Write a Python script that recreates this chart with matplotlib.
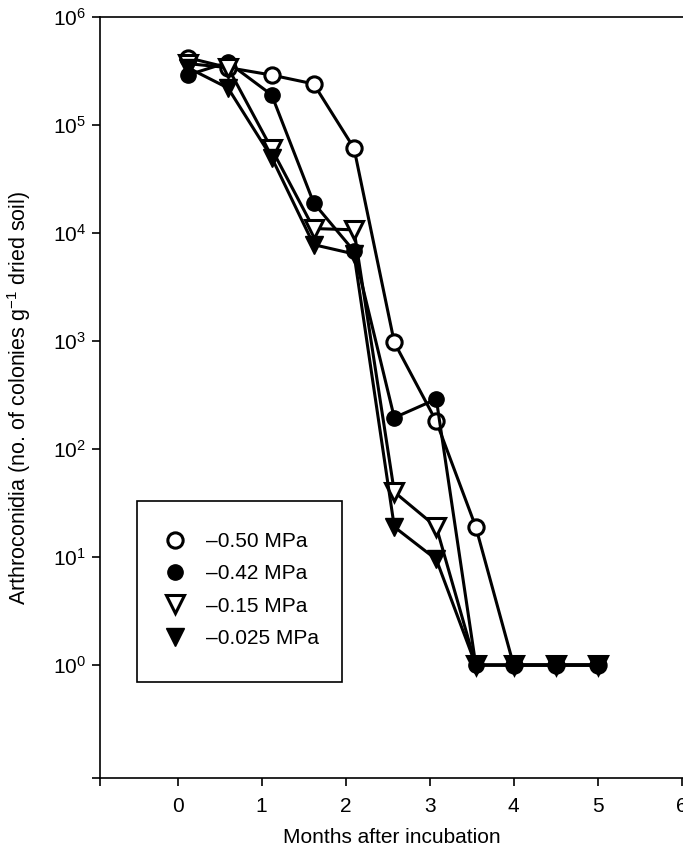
import matplotlib
matplotlib.use("Agg")
import matplotlib.pyplot as plt
import matplotlib.patches as patches

plt.rcParams['font.family'] = ['Liberation Sans', 'DejaVu Sans']
plt.rcParams['mathtext.default'] = 'regular'

# months after incubation
months = [0.12, 0.6, 1.12, 1.62, 2.1, 2.58, 3.08, 3.55, 4.0, 4.5, 5.0]

# arthroconidia counts per series
mpa_050 = [4.2e5, 3.4e5, 2.9e5, 2.4e5, 6.1e4, 970, 180, 19, 1, 1, 1]
mpa_042 = [2.9e5, 3.8e5, 1.9e5, 1.9e4, 6.8e3, 195, 290, 1, 1, 1, 1]
mpa_015 = [3.7e5, 3.4e5, 6.0e4, 1.1e4, 1.07e4, 40, 19, 1, 1, 1, 1]
mpa_0025 = [3.4e5, 2.2e5, 5.0e4, 7.8e3, 6.4e3, 19, 9.5, 1, 1, 1, 1]

labels = ['\u20130.50 MPa', '\u20130.42 MPa', '\u20130.15 MPa', '\u20130.025 MPa']
xticks = [0, 1, 2, 3, 4, 5, 6]
yticks = [1, 10, 100, 1e3, 1e4, 1e5, 1e6]

fig = plt.figure(figsize=(6.83, 8.49), dpi=100)
ax = fig.add_axes([0.1464, 0.0836, 0.8536, 0.8964])

# Tampilan garis
ax.plot(months, mpa_050, color='black', lw=2.2, marker='o', ms=11,
        mfc='white', mec='black', mew=2.2, label=labels[0])
ax.plot(months, mpa_042, color='black', lw=2.2, marker='o', ms=11,
        mfc='black', mec='black', label=labels[1])
ax.plot(months, mpa_015, color='black', lw=2.2, marker='v', ms=13,
        mfc='white', mec='black', mew=2.2, label=labels[2])
ax.plot(months, mpa_0025, color='black', lw=2.2, marker='v', ms=13,
        mfc='black', mec='black', label=labels[3])

ax.set_yscale('log')
xmin, xmax = -0.924, 6.017
ymin, ymax = 10 ** -1.046, 1e6
ax.set_xlim(xmin, xmax)
ax.set_ylim(ymin, ymax)
ax.set_xticks(xticks)
ax.set_yticks(yticks)
ax.set_xticks([xmin], minor=True)
ax.set_yticks([ymin], minor=True)
ax.yaxis.set_minor_formatter(matplotlib.ticker.NullFormatter())
ax.xaxis.set_minor_formatter(matplotlib.ticker.NullFormatter())

ax.spines['right'].set_visible(False)
for s in ['left', 'bottom', 'top']:
    ax.spines[s].set_linewidth(1.2)
ax.tick_params(which='both', direction='out', length=6, width=1.2,
               labelsize=15, pad=8)
ax.tick_params(axis='y', pad=4)

ax.set_xlabel('Months after incubation', fontsize=15, labelpad=8)
ax.set_ylabel('Arthroconidia (no. of colonies g$^{-1}$ dried soil)',
              fontsize=15.5, labelpad=14)

leg = ax.legend(loc='upper left', bbox_to_anchor=(175 / 683, 1 - 532 / 849),
                bbox_transform=fig.transFigure, frameon=False, fontsize=15,
                handlelength=0, handletextpad=1.5, borderpad=0,
                labelspacing=0.64, borderaxespad=0)

kotak = patches.Rectangle((137 / 683, 1 - 682 / 849), 205 / 683, 181 / 849,
                          transform=fig.transFigure, fill=False,
                          edgecolor='black', linewidth=1.2)
fig.patches.append(kotak)

fig.savefig('out.png', dpi=100)
